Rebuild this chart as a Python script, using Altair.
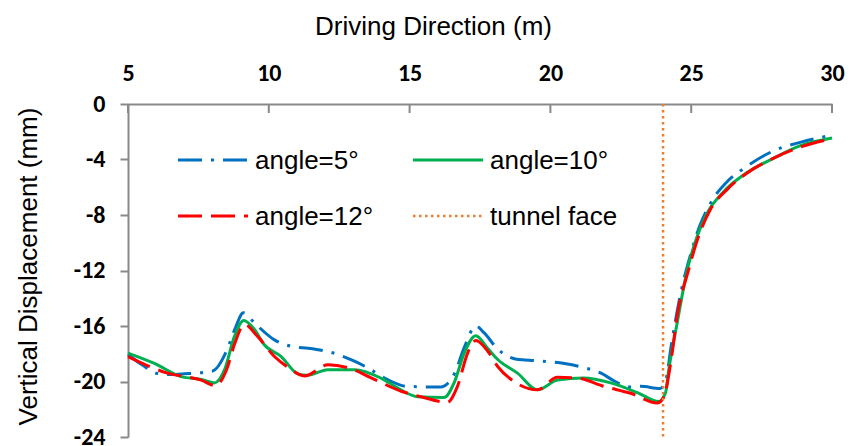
import altair as alt
import pandas as pd

# ---------------- data ----------------
x_ticks = [5, 10, 15, 20, 25, 30]
y_ticks = [0, -4, -8, -12, -16, -20, -24]
series_names = ["angle=5°", "angle=10°", "angle=12°", "tunnel face"]
colors = ["#0070C0", "#00B050", "#FF0000", "#ED7D31"]

x5 = [5.0, 5.5, 6.0, 6.5, 7.0, 8.0, 8.5, 8.8, 9.1, 9.5, 10.2, 10.9, 11.4, 12.3, 13.0,
      13.5, 14.2, 14.9, 16.1, 16.6, 16.95, 17.35, 17.65, 18.1, 18.8, 19.5, 20.5, 21.2,
      21.8, 22.3, 22.85, 23.2, 23.9, 24.1, 24.3, 24.6, 25.0, 25.3, 25.7, 26.3, 26.9,
      27.9, 28.9, 30.0]
y5 = [-18.05, -18.8, -19.4, -19.5, -19.45, -19.25, -17.8, -16.2, -15.05, -15.8, -17.0,
      -17.5, -17.6, -17.95, -18.5, -19.0, -19.85, -20.35, -20.4, -19.4, -17.5, -16.0,
      -16.5, -17.6, -18.4, -18.5, -18.7, -19.0, -19.4, -20.0, -20.4, -20.35, -20.5,
      -19.9, -17.3, -13.9, -10.7, -8.8, -7.1, -5.55, -4.6, -3.4, -2.75, -2.25]

x10 = [5.0, 5.94, 6.89, 7.6, 8.07, 8.43, 8.78, 9.11, 9.49, 9.84, 10.44, 11.03, 11.38,
       12.09, 13.04, 13.98, 14.69, 15.28, 16.23, 16.58, 16.94, 17.35, 17.77, 18.12,
       18.83, 19.54, 20.25, 21.19, 22.14, 23.09, 23.85, 24.09, 24.2, 24.5, 24.86, 25.21,
       25.57, 26.16, 26.87, 27.93, 28.88, 30.0]
y10 = [-17.95, -18.7, -19.65, -19.85, -20.1, -19.15, -16.75, -15.6, -16.25, -17.35,
       -18.2, -19.45, -19.55, -19.15, -19.15, -19.75, -20.6, -21.1, -21.15, -20.1,
       -17.95, -16.7, -17.6, -18.4, -19.4, -20.6, -19.9, -19.75, -20.1, -20.8, -21.45,
       -20.8, -19.2, -15.8, -11.95, -9.55, -7.85, -6.3, -5.1, -3.9, -3.0, -2.45]

x12 = [5.0, 6.4, 7.6, 8.1, 8.5, 8.8, 9.13, 9.6, 10.2, 10.7, 11.26, 12.1, 12.8, 13.75,
       14.7, 15.4, 16.35, 16.7, 17.06, 17.35, 17.77, 18.12, 18.71, 19.54, 20.25, 20.96,
       21.9, 22.85, 23.8, 24.03, 24.27, 24.5, 24.9, 25.27, 25.68, 26.28, 27.0, 27.93,
       28.88, 30.0]
y12 = [-18.2, -19.4, -19.9, -20.3, -19.15, -17.2, -15.9, -16.75, -18.2, -19.0, -19.6,
       -18.8, -19.0, -19.85, -20.7, -21.1, -21.5, -20.35, -17.95, -17.05, -17.8, -18.9,
       -20.0, -20.6, -19.7, -19.75, -20.35, -20.85, -21.55, -21.1, -18.7, -15.3, -12.0,
       -9.5, -7.6, -6.15, -4.95, -3.9, -3.1, -2.5]

tunnel_face_x = [24]

# ---------------- style ----------------
GRAY = "#898989"
TICK_FONT = "Carlito, Lato, sans-serif"
TEXT_FONT = "Liberation Sans, Arial, Helvetica, sans-serif"
W, H = 704, 333

xscale = alt.Scale(domain=[5, 30], nice=False, zero=False)
yscale = alt.Scale(domain=[-24, 0], nice=False, zero=False)

xaxis = alt.Axis(
    orient="top", values=x_ticks, ticks=False, tickSize=0, grid=False,
    domainColor=GRAY, domainWidth=2,
    labelFont=TICK_FONT, labelFontSize=24, labelFontWeight="bold", labelColor="black",
    labelPadding=24, labelBaseline="alphabetic", labelFlush=False,
    title="Driving Direction (m)", titleFont=TEXT_FONT, titleFontSize=26,
    titleFontWeight="normal", titleColor="black", titleX=305, titleY=-70,
    titleAlign="center", titleBaseline="alphabetic",
)
yaxis = alt.Axis(
    values=y_ticks, tickSize=8, tickColor=GRAY, tickWidth=2, grid=False,
    domainColor=GRAY, domainWidth=2,
    labelFont=TICK_FONT, labelFontSize=24, labelFontWeight="bold", labelColor="black",
    labelPadding=15, labelExpr="'' + datum.value", labelFlush=False,
    title="Vertical Displacement (mm)", titleFont=TEXT_FONT, titleFontSize=26,
    titleFontWeight="normal", titleColor="black", titleX=-92, titleY=162,
    titleAngle=270, titleAlign="center", titleBaseline="alphabetic",
)

X = alt.X("x:Q", scale=xscale, axis=xaxis)
Y = alt.Y("y:Q", scale=yscale, axis=yaxis)

dashes = [[24, 9, 3, 9], [], [24, 9], [2.5, 3.5]]


def series_layer(xs, ys, i):
    df = pd.DataFrame({"x": xs, "y": ys})
    kw = dict(color=colors[i], strokeWidth=3, interpolate="monotone", strokeCap="butt")
    if dashes[i]:
        kw["strokeDash"] = dashes[i]
    return alt.Chart(df).mark_line(**kw).encode(x=X, y=Y)


ticks_layer = alt.Chart(pd.DataFrame({"x": x_ticks, "y": [0] * len(x_ticks)})).mark_rule(
    color=GRAY, strokeWidth=2
).encode(x=X, y=Y, y2=alt.value(9))

tunnel_layer = alt.Chart(pd.DataFrame({"x": tunnel_face_x})).mark_rule(
    color=colors[3], strokeWidth=2.5, strokeDash=dashes[3]
).encode(x=X)

# legend (manual, two columns)
leg_pos = [(50, 56), (285, 56), (50, 112), (285, 112)]
legend_layers = []
for i, name in enumerate(series_names):
    lx, ly = leg_pos[i]
    d = pd.DataFrame({"s": [name]})
    kw = dict(color=colors[i], strokeWidth=3 if i < 3 else 2.5, strokeCap="butt")
    if dashes[i]:
        kw["strokeDash"] = dashes[i]
    legend_layers.append(
        alt.Chart(d).mark_rule(**kw).encode(
            x=alt.value(lx), x2=alt.value(lx + 70), y=alt.value(ly)
        )
    )
    legend_layers.append(
        alt.Chart(d).mark_text(
            align="left", baseline="alphabetic", font=TEXT_FONT, fontSize=26, color="black"
        ).encode(x=alt.value(lx + 77), y=alt.value(ly + 9), text="s:N")
    )

chart = alt.layer(
    ticks_layer,
    series_layer(x5, y5, 0),
    series_layer(x10, y10, 1),
    series_layer(x12, y12, 2),
    tunnel_layer,
    *legend_layers,
).properties(
    width=W, height=H,
    autosize=alt.AutoSizeParams(type="none"),
    padding={"left": 128, "top": 104, "right": 26, "bottom": 9},
).configure_view(stroke=None)

chart.save("out.html", embed_options={"renderer": "svg", "actions": False})
